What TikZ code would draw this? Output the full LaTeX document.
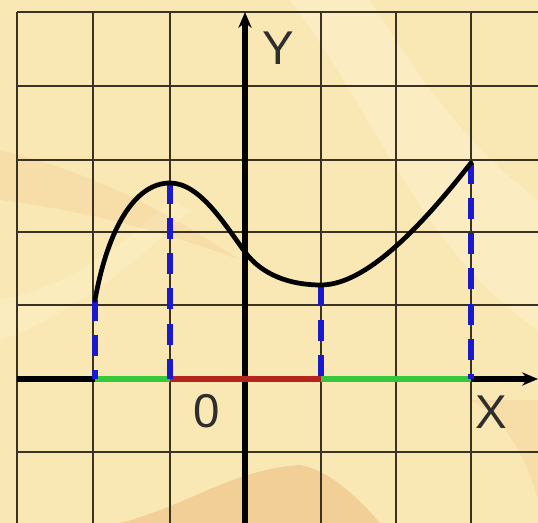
\documentclass[tikz,border=0pt]{standalone}
\usepackage{fontspec}
\setmainfont{Liberation Sans}
\usetikzlibrary{arrows.meta}
\definecolor{bgbase}{HTML}{FAE8B4}
\definecolor{bglight}{HTML}{FDF3CF}
\definecolor{bgdark}{HTML}{F1C98F}
\definecolor{gridc}{HTML}{3A3222}
\definecolor{greenseg}{HTML}{36C83A}
\definecolor{redseg}{HTML}{B3241C}
\definecolor{bluedash}{HTML}{1A1ACC}
\definecolor{labelc}{HTML}{2E2E2E}
\tikzset{
  gridline/.style={draw=gridc, line width=1.5pt},
  axisline/.style={draw=black, line width=2.9pt, -{Stealth[length=9pt,width=7.5pt]}},
  curveline/.style={draw=black, line width=2.7pt, line cap=round},
  dropline/.style={draw=bluedash, line width=2.9pt, dash pattern=on 12pt off 8pt},
  posseg/.style={draw=greenseg, line width=3.8pt},
  negseg/.style={draw=redseg, line width=3.8pt},
  axislabel/.style={text=labelc, font=\fontsize{27}{27}\selectfont, inner sep=0pt}
}
\begin{document}
\begin{tikzpicture}[x=0.02cm,y=-0.02cm]
\useasboundingbox (0,0) rectangle (538,523);
% background
\fill[bgbase] (0,0) rectangle (538,523);
\fill[bglight, opacity=0.5] (290,0) .. controls (380,120) and (420,250) .. (538,330) -- (538,200) .. controls (470,150) and (420,80) .. (370,0) -- cycle;
\fill[bglight, opacity=0.4] (0,300) .. controls (60,290) and (120,250) .. (170,200) -- (190,210) .. controls (130,270) and (60,320) .. (0,340) -- cycle;
\fill[bgdark, opacity=0.3] (0,150) .. controls (80,170) and (150,200) .. (240,260) .. controls (160,230) and (80,210) .. (0,200) -- cycle;
\fill[bgdark, opacity=0.8] (120,523) .. controls (190,505) and (230,470) .. (300,465) .. controls (330,470) and (360,500) .. (380,523) -- cycle;
\fill[bgdark, opacity=0.3] (470,400) .. controls (510,420) and (530,470) .. (538,500) -- (538,400) -- cycle;
% grid
\foreach \gx in {17,93,170,321,396,471} {
  \draw[gridline] (\gx,12) -- (\gx,523);
}
\foreach \gy in {12,86,160,232,305,452} {
  \draw[gridline] (17,\gy) -- (538,\gy);
}
% key points
\coordinate (O) at (245,379);
\coordinate (xs) at (17,379);
\coordinate (xe) at (538,379);
\coordinate (ys) at (245,523);
\coordinate (ye) at (245,12);
\coordinate (A) at (95,300);
\coordinate (B) at (170,183);
\coordinate (C) at (245,252);
\coordinate (D) at (321,285);
\coordinate (E) at (471,163);
\coordinate (Ax) at (95,379);
\coordinate (Bx) at (170,379);
\coordinate (Dx) at (321,379);
\coordinate (Ex) at (471,379);
% axes
\draw[axisline] (xs) -- (xe);
\draw[axisline] (ys) -- (ye);
% colored segments
\draw[posseg] (Ax) -- (Bx);
\draw[negseg] (Bx) -- (Dx);
\draw[posseg] (Dx) -- (Ex);
% dashed drop lines
\draw[dropline] (A) -- (Ax);
\draw[dropline] (B) -- (Bx);
\draw[dropline] (D) -- (Dx);
\draw[dropline] (E) -- (Ex);
% curve
\draw[curveline] (A) .. controls (108,228) and (135,183) .. (B)
  .. controls (200,183) and (225,225) .. (C)
  .. controls (262,275) and (290,285) .. (D)
  .. controls (370,285) and (430,215) .. (E);
% labels
\node[axislabel] (ylab) at (278,48) {Y};
\node[axislabel] (olab) at (207,411) {0};
\node[axislabel] (xlab) at (491,412) {X};
\end{tikzpicture}
\end{document}
